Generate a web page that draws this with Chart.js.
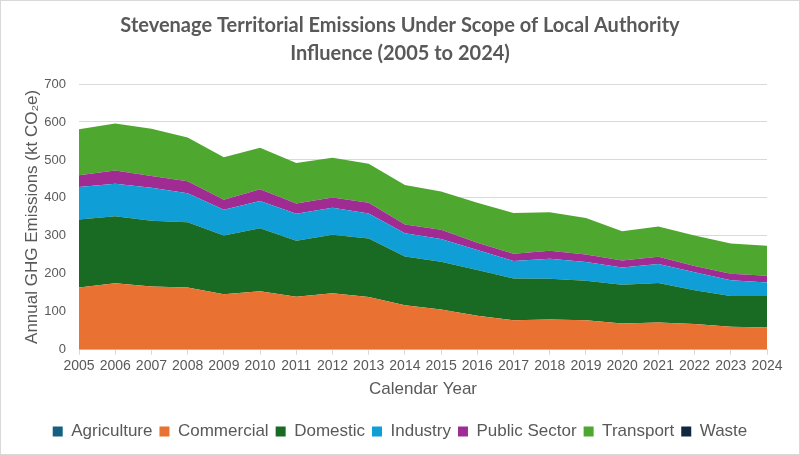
<!DOCTYPE html>
<html lang="en">
<head>
<meta charset="UTF-8">
<title>Stevenage Territorial Emissions</title>
<script src="https://cdn.jsdelivr.net/npm/chart.js@4.4.1/dist/chart.umd.min.js"></script>
<style>
    html, body { margin: 0; padding: 0; background: #fff; }
    #wrap {
        width: 798px;
        height: 453px;
        border: 1px solid #d9d9d9;
        position: relative;
    }
</style>
</head>
<body>
<div id="wrap"><canvas id="myChart"></canvas></div>

<script>
// anni e valori (kt CO2e)
var years = ["2005","2006","2007","2008","2009","2010","2011","2012","2013","2014",
             "2015","2016","2017","2018","2019","2020","2021","2022","2023","2024"];

var agriculture = [0,0,0,0,0,0,0,0,0,0,0,0,0,0,0,0,0,0,0,0];
var commercial  = [164,175,167,164,146,154,140,149,139,117,106,90,78,80,78,69,72,68,61,59];
var domestic    = [179,177,173,172,155,166,147,154,154,129,126,120,110,107,104,102,104,89,81,83];
var industry    = [86,85,87,76,68,72,71,71,66,61,60,53,46,53,49,46,50,47,41,35];
var publicSector= [31,35,31,32,26,31,27,27,28,23,24,19,19,21,20,18,19,17,17,18];
var transport   = [121,124,124,115,112,109,107,105,103,104,101,105,107,101,96,77,80,80,80,79];
var waste       = [0,0,0,0,0,0,0,0,0,0,0,0,0,0,0,0,0,0,0,0];

var yTicks = [0,100,200,300,400,500,600,700];

var grey = "#595959";
var tickFont = "'Liberation Sans', Arial, sans-serif";

function area(label, data, color, first) {
    return {
        label: label,
        data: data,
        backgroundColor: color,
        borderColor: color,
        borderWidth: 0,
        pointRadius: 0,
        pointHoverRadius: 0,
        tension: 0,
        fill: first ? "origin" : "-1"
    };
}

const data = {
    labels: years,
    datasets: [
        area("Agriculture", agriculture, "#156082", true),
        area("Commercial", commercial, "#E97132"),
        area("Domestic", domestic, "#196B24"),
        area("Industry", industry, "#0F9ED5"),
        area("Public Sector", publicSector, "#A02B93"),
        area("Transport", transport, "#4EA72E"),
        area("Waste", waste, "#0E2841")
    ]
};

const config = {
    type: "line",
    data: data,
    options: {
        responsive: true,
        maintainAspectRatio: false,
        animation: false,
        layout: { padding: { left: 17, right: 17, top: 11, bottom: 4 } },
        plugins: {
            title: {
                display: true,
                text: ["Stevenage Territorial Emissions Under Scope of Local Authority",
                       "Influence (2005 to 2024)"],
                color: grey,
                font: { family: "Lato, 'Open Sans', sans-serif", size: 20, weight: "bold", lineHeight: 1.4 },
                padding: { top: 0, bottom: 16 }
            },
            legend: {
                position: "bottom",
                labels: {
                    color: grey,
                    font: { family: tickFont, size: 17 },
                    boxWidth: 10,
                    boxHeight: 10,
                    padding: 7
                }
            },
            tooltip: { enabled: false }
        },
        scales: {
            x: {
                offset: false,
                stacked: true,
                grid: { display: true, drawOnChartArea: false, drawTicks: true, tickLength: 5, color: "#d9d9d9" },
                border: { color: "#d9d9d9" },
                ticks: { color: grey, font: { family: tickFont, size: 14 }, maxRotation: 0, autoSkip: false, padding: 3 },
                title: { display: true, text: "Calendar Year", color: grey, font: { family: tickFont, size: 17 }, padding: { top: 2, bottom: 16 } }
            },
            y: {
                stacked: true,
                min: 0,
                max: 700,
                afterBuildTicks: function(axis) {
                    axis.ticks = yTicks.map(function(v) { return { value: v }; });
                },
                afterFit: function(axis) {
                    axis.width = 61;
                },
                grid: { color: "#d9d9d9", drawTicks: false },
                border: { display: false },
                ticks: { color: grey, font: { family: tickFont, size: 13 }, padding: 13 },
                title: { display: true, text: "Annual GHG Emissions (kt CO₂e)", color: grey, font: { family: tickFont, size: 17 }, padding: { top: 4, bottom: 6 } }
            },
            // asse vuoto a destra, solo per lasciare spazio
            yRight: {
                type: "linear",
                position: "right",
                display: true,
                grid: { display: false },
                border: { display: false },
                ticks: { display: false },
                afterFit: function(axis) {
                    axis.width = 15;
                }
            }
        }
    }
};

new Chart(document.getElementById("myChart"), config);
</script>
</body>
</html>
